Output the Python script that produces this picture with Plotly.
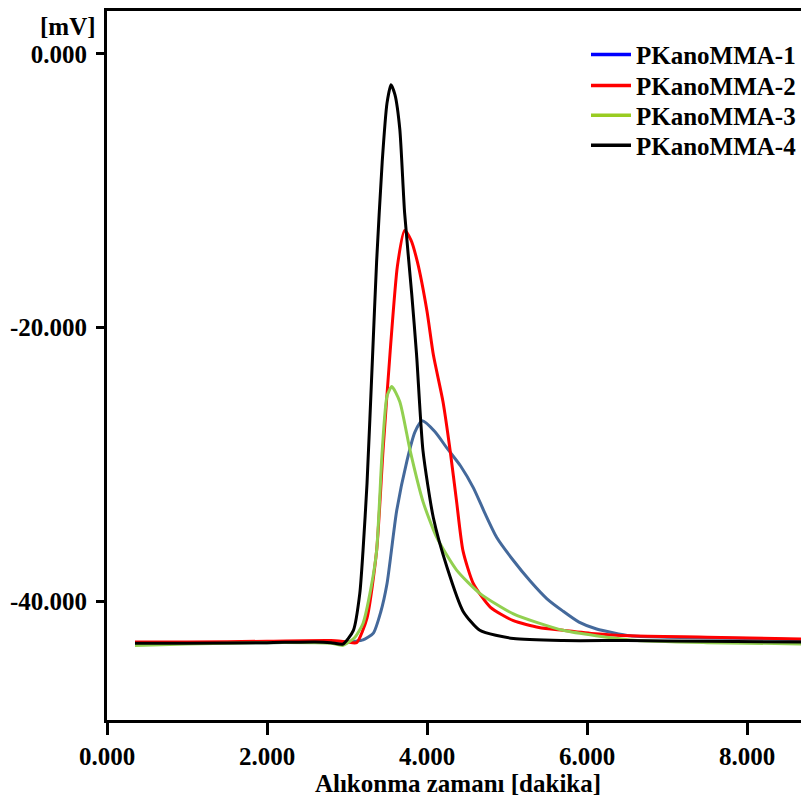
import plotly.graph_objects as go

# ---- data ----
x1 = [0.35, 1.0, 2.0, 2.8, 3.0, 3.1, 3.2, 3.33, 3.42, 3.5, 3.62, 3.75, 3.85, 3.94, 4.1, 4.25, 4.42, 4.58, 4.72, 4.87, 5.08, 5.29, 5.5, 5.70, 5.9, 6.12, 6.54, 7.0, 8.0, 8.8]
y1 = [-43.1, -43.05, -43.0, -42.95, -42.95, -42.9, -42.8, -42.3, -40.8, -38.7, -33.4, -29.7, -27.6, -26.8, -27.6, -28.8, -30.1, -31.7, -33.5, -35.3, -37.0, -38.5, -39.8, -40.7, -41.5, -42.0, -42.5, -42.6, -42.7, -42.8]

x2 = [0.35, 1.0, 2.0, 2.8, 3.0, 3.12, 3.25, 3.37, 3.45, 3.54, 3.63, 3.72, 3.8, 3.88, 4.0, 4.08, 4.2, 4.29, 4.37, 4.45, 4.58, 4.79, 5.08, 5.4, 5.7, 6.1, 6.54, 7.5, 8.8]
y2 = [-42.95, -42.95, -42.9, -42.85, -42.95, -43.0, -41.2, -36.3, -29.0, -21.7, -15.5, -12.9, -13.6, -15.2, -18.8, -22.0, -25.4, -29.0, -32.7, -36.3, -38.7, -40.4, -41.4, -41.9, -42.1, -42.35, -42.5, -42.6, -42.75]

x3 = [0.35, 1.0, 2.0, 2.8, 2.95, 3.1, 3.2, 3.3, 3.37, 3.44, 3.5, 3.56, 3.66, 3.79, 3.95, 4.12, 4.37, 4.66, 5.08, 5.7, 6.54, 7.5, 8.8]
y3 = [-43.2, -43.1, -43.0, -43.05, -43.2, -42.6, -41.6, -39.0, -36.3, -29.0, -25.0, -24.3, -25.4, -29.0, -32.7, -35.3, -37.7, -39.4, -40.9, -42.1, -42.8, -43.0, -43.1]

x4 = [0.35, 1.0, 2.0, 2.6, 2.8, 2.95, 3.08, 3.16, 3.2, 3.25, 3.32, 3.37, 3.44, 3.5, 3.55, 3.6, 3.66, 3.72, 3.81, 3.87, 3.95, 4.08, 4.25, 4.45, 4.66, 5.08, 5.7, 6.5, 7.5, 8.8]
y4 = [-43.05, -43.05, -43.0, -42.95, -43.0, -43.1, -42.1, -39.4, -36.3, -31.4, -22.0, -15.2, -7.9, -3.6, -2.25, -3.0, -5.5, -11.6, -17.6, -22.0, -29.0, -33.9, -37.5, -40.7, -42.1, -42.7, -42.85, -42.85, -42.9, -42.95]

names = ["PKanoMMA-1", "PKanoMMA-2", "PKanoMMA-3", "PKanoMMA-4"]
line_colors = ["#44699b", "#ff0000", "#92d050", "#000000"]
legend_colors = ["#0000ff", "#ff0000", "#99cc22", "#000000"]

x_ticks = [0, 2, 4, 6, 8]
x_ticklabels = ["0.000", "2.000", "4.000", "6.000", "8.000"]
y_ticks = [0, -20, -40]
y_ticklabels = ["0.000", "-20.000", "-40.000"]

FONT = "Liberation Serif"
FS = 25

# page is offset by the 8px body margin; figure is 801x795 so it ends at the window edge
W, H = 801, 795
ML, MT, MB = 99, 0, 83
PH = H - MT - MB

fig = go.Figure()
for xs, ys, c in zip([x1, x2, x3, x4], [y1, y2, y3, y4], line_colors):
    fig.add_trace(go.Scatter(x=xs, y=ys, mode="lines", showlegend=False,
                             line=dict(color=c, width=3, shape="spline", smoothing=0.6)))

legend_rows = [44, 75, 105, 135]  # item centres, px from top of figure
legend_keys = ["legend", "legend2", "legend3", "legend4"]
leg_layout = {}
for n, c, key, row in zip(names, legend_colors, legend_keys, legend_rows):
    fig.add_trace(go.Scatter(x=[None], y=[None], mode="lines", name=n, legend=key,
                             line=dict(color=c, width=3.5)))
    leg_layout[key] = dict(x=(578 - ML) / (W - ML), y=1 - (row - MT) / PH,
                           xanchor="left", yanchor="middle",
                           font=dict(family=FONT, size=FS, color="black", weight="bold"),
                           bgcolor="rgba(0,0,0,0)", itemwidth=40)

fig.update_layout(
    width=W, height=H,
    margin=dict(l=ML, r=0, t=MT, b=MB),
    plot_bgcolor="white", paper_bgcolor="white",
    font=dict(family=FONT, size=FS, color="black"),
    xaxis=dict(range=[0, 8.775], showline=True, linecolor="black", linewidth=3,
               mirror=True, showgrid=False, zeroline=False,
               ticks="outside", ticklen=12, tickwidth=3, tickcolor="black",
               tickvals=x_ticks, ticktext=x_ticklabels,
               tickfont=dict(family=FONT, size=FS, weight="bold"),
               title=dict(text="Alıkonma zamanı [dakika]", standoff=4,
                          font=dict(family=FONT, size=FS, weight="bold"))),
    yaxis=dict(range=[-48.65, 3.13], showline=True, linecolor="black", linewidth=3,
               showgrid=False, zeroline=False,
               ticks="outside", ticklen=8, tickwidth=3, tickcolor="black",
               tickvals=y_ticks, ticktext=y_ticklabels, ticklabelstandoff=4,
               tickfont=dict(family=FONT, size=FS, weight="bold")),
    annotations=[dict(text="[mV]", xref="paper", yref="paper",
                      x=(90 - ML) / (W - ML), y=1.0, xanchor="right", yanchor="top",
                      showarrow=False, font=dict(family=FONT, size=FS, weight="bold"))],
    **leg_layout,
)

fig.write_html("out.html")
